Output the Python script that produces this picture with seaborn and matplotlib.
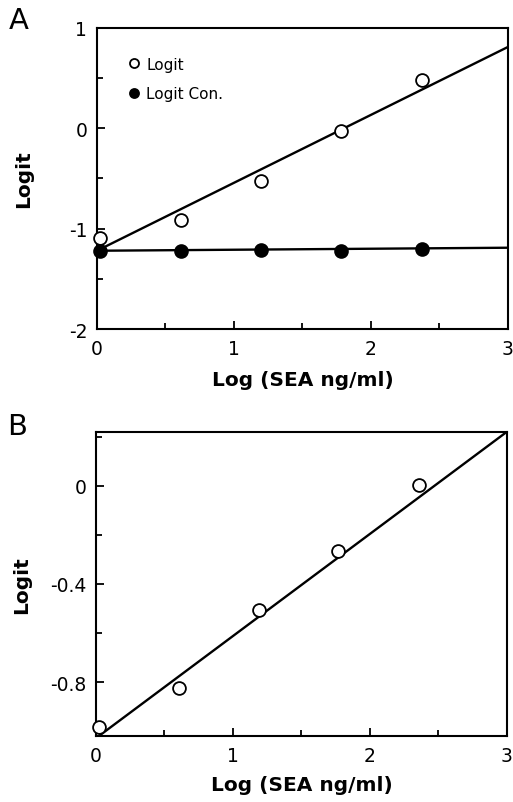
import matplotlib
matplotlib.use("Agg")
import matplotlib.pyplot as plt
import seaborn as sns
import pandas as pd
import numpy as np
from matplotlib.ticker import MultipleLocator
from matplotlib.lines import Line2D

sns.set_theme(style="white")
plt.rcParams['font.family'] = ['DejaVu Sans']
plt.rcParams['text.color'] = 'black'

# Panel A data
a_x = [0.02, 0.61, 1.20, 1.78, 2.37]
a_logit = [-1.09, -0.91, -0.53, -0.03, 0.48]
a_logit_con = [-1.22, -1.22, -1.21, -1.22, -1.20]
# fitted lines (endpoints)
a_fit_x = [0.0, 3.0]
a_fit_logit = [-1.22, 0.81]
a_fit_con = [-1.22, -1.19]

# Panel B data
b_x = [0.02, 0.61, 1.19, 1.77, 2.36]
b_logit = [-0.984, -0.824, -0.508, -0.266, 0.005]
b_fit_x = [0.02, 3.0]
b_fit_logit = [-1.02, 0.22]

xlabel = "Log (SEA ng/ml)"
ylabel = "Logit"

fig = plt.figure(figsize=(5.13, 8.03), dpi=100)
axA = fig.add_axes([0.189, 0.589, 0.801, 0.375])
axB = fig.add_axes([0.187, 0.082, 0.801, 0.379])

ms = 85
def style(ax, ylim, ymaj, ymin, yfmt, ylab_x, xlabpad):
    ax.set_xlim(0, 3)
    ax.set_ylim(*ylim)
    ax.xaxis.set_major_locator(MultipleLocator(1))
    ax.xaxis.set_minor_locator(MultipleLocator(0.5))
    ax.yaxis.set_major_locator(MultipleLocator(ymaj))
    ax.yaxis.set_minor_locator(MultipleLocator(ymin))
    ax.tick_params(which='both', direction='in', bottom=True, left=True, top=False, right=False,
                   width=1.3, color='black', labelsize=13.5, labelcolor='black')
    ax.tick_params(which='major', length=5.5)
    ax.tick_params(which='minor', length=4.5)
    ax.tick_params(axis='x', pad=7)
    ax.tick_params(axis='y', pad=7)
    for s in ax.spines.values():
        s.set_linewidth(1.5)
        s.set_color('black')
    ax.set_xlabel(xlabel, fontsize=14.5, labelpad=xlabpad, color='black', fontweight='bold')
    ax.set_ylabel(ylabel, fontsize=14.5, color='black', fontweight='bold')
    ax.yaxis.set_label_coords(ylab_x, 0.5)
    ax.set_facecolor('white')
    ax.yaxis.set_major_formatter(plt.FuncFormatter(yfmt))
    ax.xaxis.set_major_formatter(plt.FuncFormatter(lambda v, p: f"{int(round(v))}"))

# Panel A
dfa = pd.DataFrame({'x': a_x, 'logit': a_logit, 'con': a_logit_con})
dfa_fit = pd.DataFrame({'x': a_fit_x, 'logit': a_fit_logit, 'con': a_fit_con})
sns.lineplot(data=dfa_fit, x='x', y='logit', ax=axA, color='black', lw=1.7)
sns.lineplot(data=dfa_fit, x='x', y='con', ax=axA, color='black', lw=1.7)
sns.scatterplot(data=dfa, x='x', y='logit', ax=axA, s=ms, facecolor='white', edgecolor='black', linewidth=1.3, zorder=5, clip_on=False)
sns.scatterplot(data=dfa, x='x', y='con', ax=axA, s=ms, color='black', edgecolor='black', linewidth=1.3, zorder=5, clip_on=False)
style(axA, (-2, 1), 1, 0.5, lambda v, p: f"{int(round(v))}", -0.155, 9)
handles = [Line2D([], [], ls='none', marker='o', ms=6.5, mfc='white', mec='black', mew=1.3),
           Line2D([], [], ls='none', marker='o', ms=6.5, mfc='black', mec='black', mew=1.3)]
axA.legend(handles, ["Logit", "Logit Con."], loc='upper left', bbox_to_anchor=(0.045, 0.94),
           frameon=False, fontsize=11, handletextpad=0.3, labelspacing=0.95, handlelength=1.0,
           borderpad=0.2)

# Panel B
dfb = pd.DataFrame({'x': b_x, 'logit': b_logit})
dfb_fit = pd.DataFrame({'x': b_fit_x, 'logit': b_fit_logit})
sns.lineplot(data=dfb_fit, x='x', y='logit', ax=axB, color='black', lw=1.7)
sns.scatterplot(data=dfb, x='x', y='logit', ax=axB, s=ms, facecolor='white', edgecolor='black', linewidth=1.3, zorder=5, clip_on=False)
style(axB, (-1.02, 0.22), 0.4, 0.2, lambda v, p: "0" if abs(v) < 1e-9 else f"{v:.1f}", -0.158, 7)

fig.text(19/513, 1 - 21/803, "A", fontsize=21, va='center', ha='center', color='black')
fig.text(17/513, 1 - 427/803, "B", fontsize=21, va='center', ha='center', color='black')

fig.savefig("out.png", dpi=100, facecolor='white')
